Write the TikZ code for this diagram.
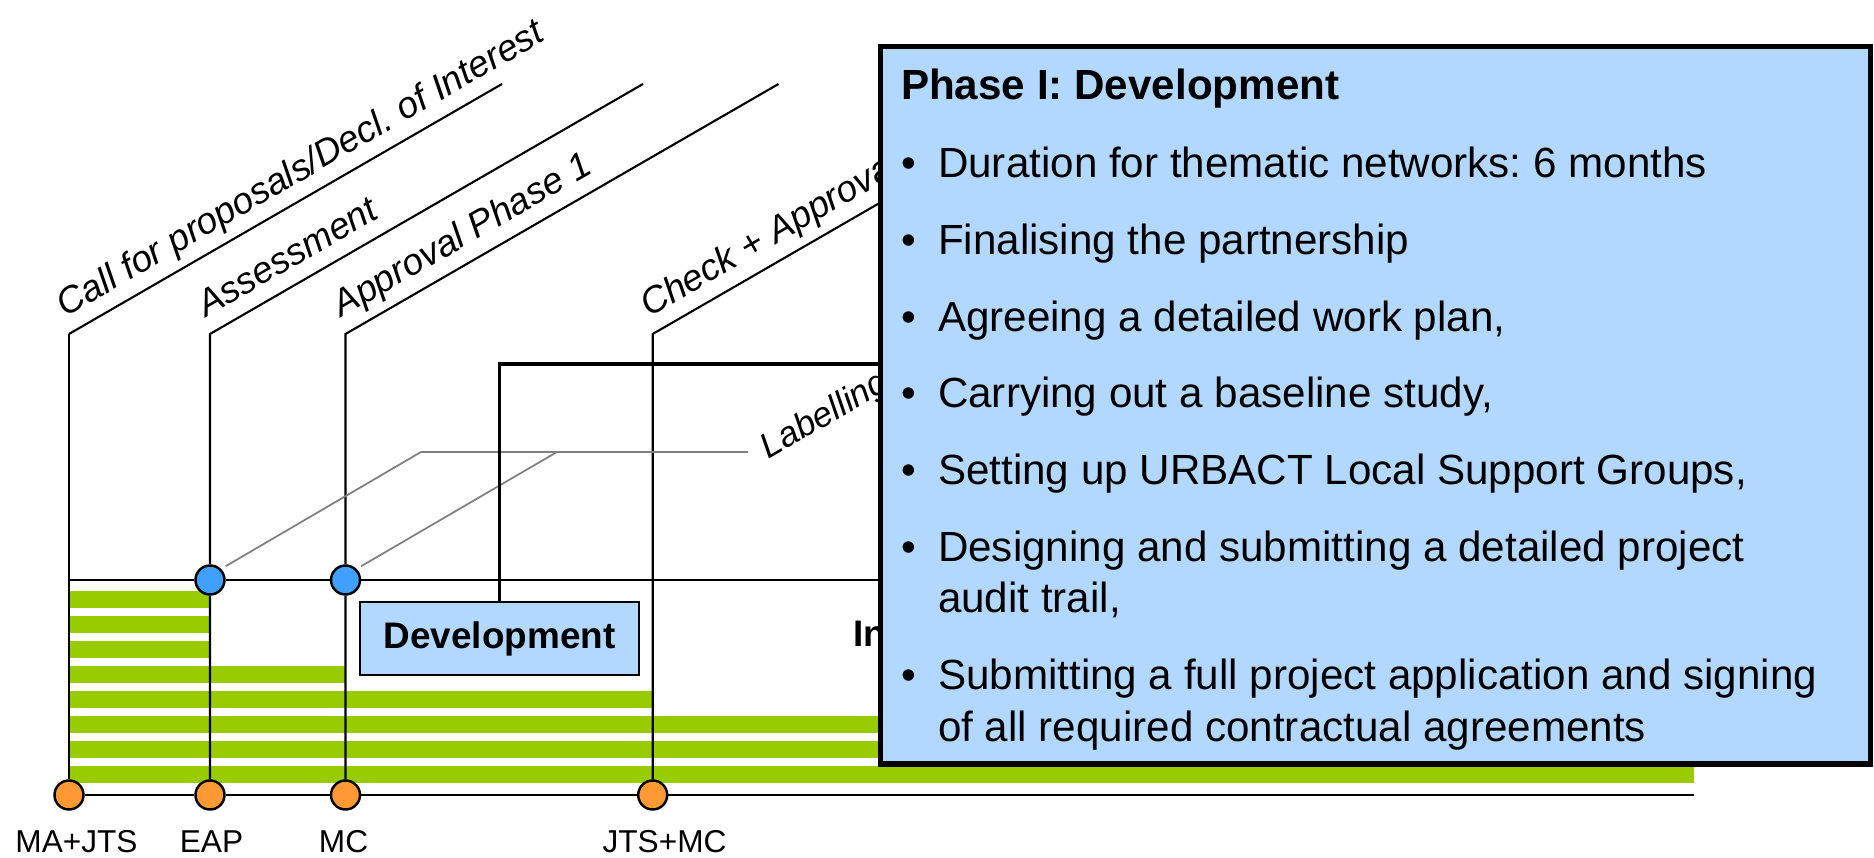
\documentclass[tikz,border=0pt]{standalone}
\usepackage{fontspec}
\setmainfont{Liberation Sans}
\usepackage{xcolor}
\usepackage{tikz}
\usetikzlibrary{positioning,calc}
\definecolor{barGreen}{RGB}{153,204,0}
\definecolor{msOrange}{RGB}{255,153,51}
\definecolor{msBlue}{RGB}{64,160,255}
\definecolor{boxBlue}{RGB}{178,216,255}
\definecolor{labGray}{RGB}{128,128,128}
\tikzset{ms/.style={circle,draw,line width=0.7pt,fill=msOrange,minimum size=0.29cm,inner sep=0pt}}
\tikzset{lab/.style={circle,draw,line width=0.7pt,fill=msBlue,minimum size=0.29cm,inner sep=0pt}}
\tikzset{diag/.style={rotate=30,anchor=base west,inner sep=0pt,font=\fontsize{10.5}{13}\itshape}}
\tikzset{who/.style={anchor=base,inner sep=0pt,font=\fontsize{9}{11}\selectfont}}
\tikzset{item/.style={anchor=base west,inner sep=0pt,font=\fontsize{12}{14}\selectfont}}
\tikzset{devbox/.style={rectangle,draw,line width=0.8pt,fill=boxBlue,minimum width=2.79cm,minimum height=0.73cm,font=\fontsize{10.5}{12}\bfseries}}
\tikzset{phasebox/.style={rectangle,draw,line width=1.6pt,fill=boxBlue,minimum width=9.9cm,minimum height=7.175cm,inner sep=0pt}}

\begin{document}
\frenchspacing
\begin{tikzpicture}[line width=0.6pt]
    \useasboundingbox (0,0) rectangle (18.74,8.58);

    % green bars
    \foreach \i/\e in {0/2.10,1/2.10,2/2.10,3/3.455,4/6.527,5/16.94,6/16.94,7/16.94}
        \fill[barGreen] (0.69,{2.50-0.25*\i}) rectangle (\e,{2.67-0.25*\i});

    \node[ms] (ma)at (0.69,0.63) {};
    \node[ms] (eap)at (2.10,0.63) {};
    \node[ms] (mc)at (3.455,0.63) {};
    \node[ms] (jm)at (6.527,0.63) {};
    \node[lab] (la)at (2.10,2.78) {};
    \node[lab] (lb)at (3.455,2.78) {};

    \coordinate (maT) at (0.69,5.24);
    \coordinate (eapT) at (2.10,5.24);
    \coordinate (mcT) at (3.455,5.24);
    \coordinate (jmT) at (6.527,5.24);
    \coordinate (midS) at (0.69,2.78);
    \coordinate (midE) at (16.94,2.78);
    \coordinate (botE) at (16.94,0.63);

    \draw [line width=0.85pt] (ma) -- (maT);
    \draw [] (maT) -- ++(30:5);
    \draw [] (eap) -- (la) -- (eapT) -- ++(30:5);
    \draw [] (mc) -- (lb) -- (mcT) -- ++(30:5);
    \draw [] (jm) -- (jmT) -- ++(30:5);
    \draw [line width=0.8pt] (midS) -- (la) -- (lb) -- (midE);
    \draw [line width=0.8pt] (ma) -- (eap) -- (mc) -- (jm) -- (botE);

    \node[diag] (callT)at ($(maT)+(120:0.16)+(30:0.04)$) {Call for proposals/Decl. of Interest};
    \node[diag] (assT)at ($(eapT)+(120:0.16)+(30:0.04)$) {Assessment};
    \node[diag] (appT)at ($(mcT)+(120:0.16)+(30:0.04)$) {Approval Phase 1};
    \node[diag] (chkT)at ($(jmT)+(120:0.16)+(30:0.04)$) {Check + Approval};

    % labelling
    \coordinate (lbA) at (4.21,4.06);
    \coordinate (lbB) at (5.57,4.06);
    \coordinate (lbE) at (7.48,4.06);
    \draw [labGray,line width=0.5pt,shorten <=1.5pt] (la.north east) -- (lbA) -- (lbE);
    \draw [labGray,line width=0.5pt,shorten <=1.5pt] (lb.north east) -- (lbB);
    \node[diag,font=\fontsize{10}{12}\itshape] (labT)at (7.68,3.98) {Labelling};

    \node[who] (maL)at (0.765,0.05) {MA+JTS};
    \node[who] (eapL)at (2.115,0.05) {EAP};
    \node[who] (mcL)at (3.435,0.05) {MC};
    \node[who] (jmL)at (6.645,0.05) {JTS+MC};

    \node[devbox] (dev)at (4.995,2.195) {Development};
    \coordinate (devT) at (10,4.94);
    \draw [line width=0.9pt] (dev) |- (devT);
    \node[item,font=\fontsize{10.5}{12}\bfseries] (impl)at (8.52,2.11) {In};

    % phase box
    \node[phasebox] (ph)at (13.755,4.5275) {};
    \node[item,font=\fontsize{12}{14}\bfseries] (phT)at (9.00,7.58) {Phase I: Development};
    \foreach \y/\t [count=\k] in {6.80/{Duration for thematic networks: 6 months},
        6.03/{Finalising the partnership},
        5.26/{Agreeing a detailed work plan,},
        4.50/{Carrying out a baseline study,},
        3.73/{Setting up URBACT Local Support Groups,},
        2.96/{Designing and submitting a detailed project},
        1.68/{Submitting a full project application and signing}} {
        \node[item] (dot\k)at (9.00,\y) {\textbullet};
        \node[item] (it\k)at (9.37,\y) {\t};
    }
    \node[item] (it6b)at (9.37,2.45) {audit trail,};
    \node[item] (it7b)at (9.37,1.16) {of all required contractual agreements};
\end{tikzpicture}
\end{document}
